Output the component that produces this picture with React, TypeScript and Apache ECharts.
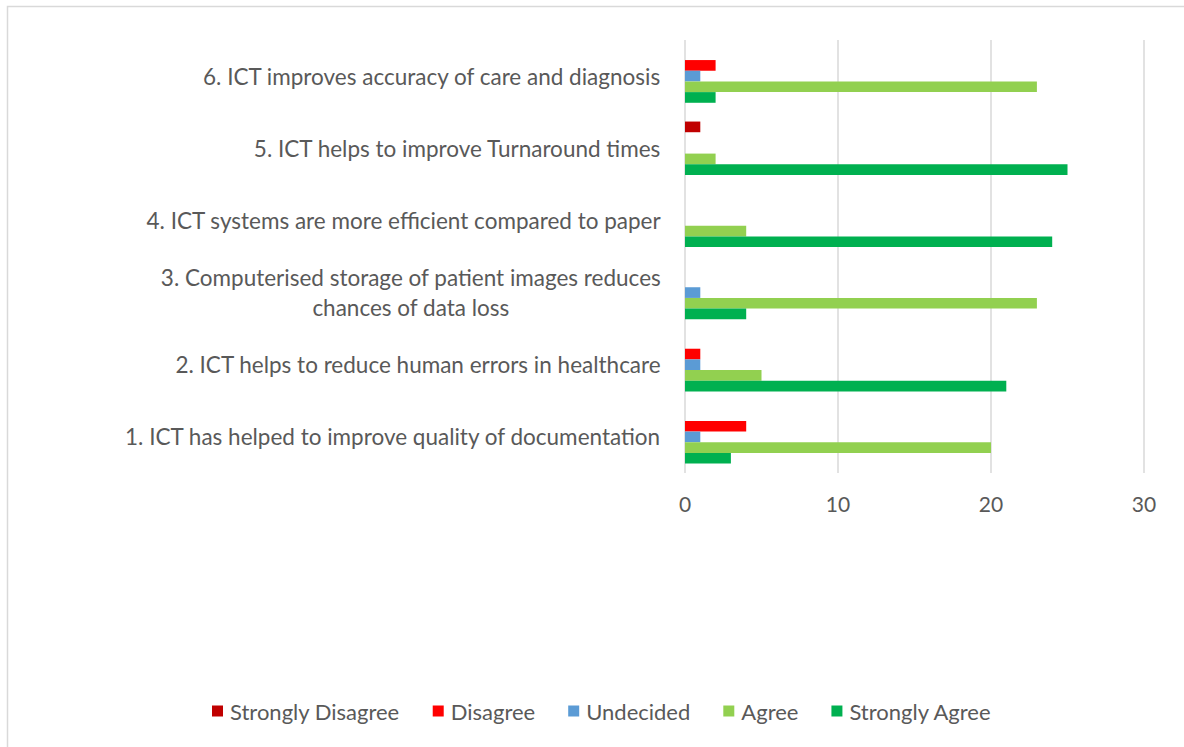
import React, { useEffect, useRef } from "react";
import * as echarts from "echarts";

const categories = [
  "1. ICT has helped to improve quality of documentation",
  "2. ICT helps to reduce human errors in healthcare",
  "3. Computerised storage of patient images reduces\nchances of data loss",
  "4. ICT systems are more efficient compared to paper",
  "5. ICT helps to improve Turnaround times",
  "6. ICT improves accuracy of care and diagnosis",
];

const seriesNames = ["Strongly Disagree", "Disagree", "Undecided", "Agree", "Strongly Agree"];
const seriesColors = ["#C00000", "#FF0000", "#5B9BD5", "#92D050", "#00B050"];

const stronglyDisagree = [0, 0, 0, 0, 1, 0];
const disagree = [4, 1, 0, 0, 0, 2];
const undecided = [1, 1, 1, 0, 0, 1];
const agree = [20, 5, 23, 4, 2, 23];
const stronglyAgree = [3, 21, 4, 24, 25, 2];

const valueTicks = { min: 0, max: 30, interval: 10 };

const FONT = "Lato";
const TEXT_COLOR = "#595959";

export default function App() {
  const ref = useRef<HTMLDivElement>(null);
  useEffect(() => {
    const chart = echarts.init(ref.current!, undefined, { renderer: "svg" });
    const values = [stronglyDisagree, disagree, undecided, agree, stronglyAgree];
    chart.setOption({
      animation: false,
      textStyle: { fontFamily: FONT },
      graphic: [
        {
          type: "rect",
          shape: { x: 7.5, y: 6.5, width: 1200, height: 800 },
          style: { fill: "none", stroke: "#D9D9D9", lineWidth: 1.5 },
          silent: true,
        },
      ],
      legend: {
        data: seriesNames,
        bottom: 20,
        left: 207,
        itemWidth: 11,
        itemHeight: 11,
        itemGap: 33,
        icon: "rect",
        textStyle: { fontFamily: FONT, fontSize: 22, color: TEXT_COLOR, padding: [0, 0, 0, 2] },
      },
      grid: { left: 685, right: 40, top: 40, bottom: 274, containLabel: false },
      xAxis: {
        type: "value",
        min: valueTicks.min,
        max: valueTicks.max,
        interval: valueTicks.interval,
        axisLine: { show: false },
        axisTick: { show: false },
        axisLabel: { fontFamily: FONT, fontSize: 21, color: TEXT_COLOR, margin: 20 },
        splitLine: { show: true, lineStyle: { color: "#D9D9D9", width: 1.5 } },
      },
      yAxis: {
        type: "category",
        data: categories,
        axisLine: { show: false },
        axisTick: { show: false },
        axisLabel: {
          margin: 24,
          fontFamily: FONT,
          fontSize: 22.5,
          color: TEXT_COLOR,
          lineHeight: 30,
          formatter: (v: string) =>
            v
              .split("\n")
              .map((l) => `{c|${l}}`)
              .join("\n"),
          rich: {
            c: { align: "center", fontFamily: FONT, fontSize: 22.5, color: TEXT_COLOR, lineHeight: 30 },
          },
        },
      },
      series: seriesNames.map((name, i) => ({
        name,
        type: "bar",
        data: values[i],
        itemStyle: { color: seriesColors[i] },
        barGap: "0%",
        barCategoryGap: "26%",
      })),
    });
    return () => chart.dispose();
  }, []);
  return (
    <div
      ref={ref}
      style={{ position: "fixed", left: 0, top: 0, width: 1184, height: 747, background: "#fff" }}
    />
  );
}
